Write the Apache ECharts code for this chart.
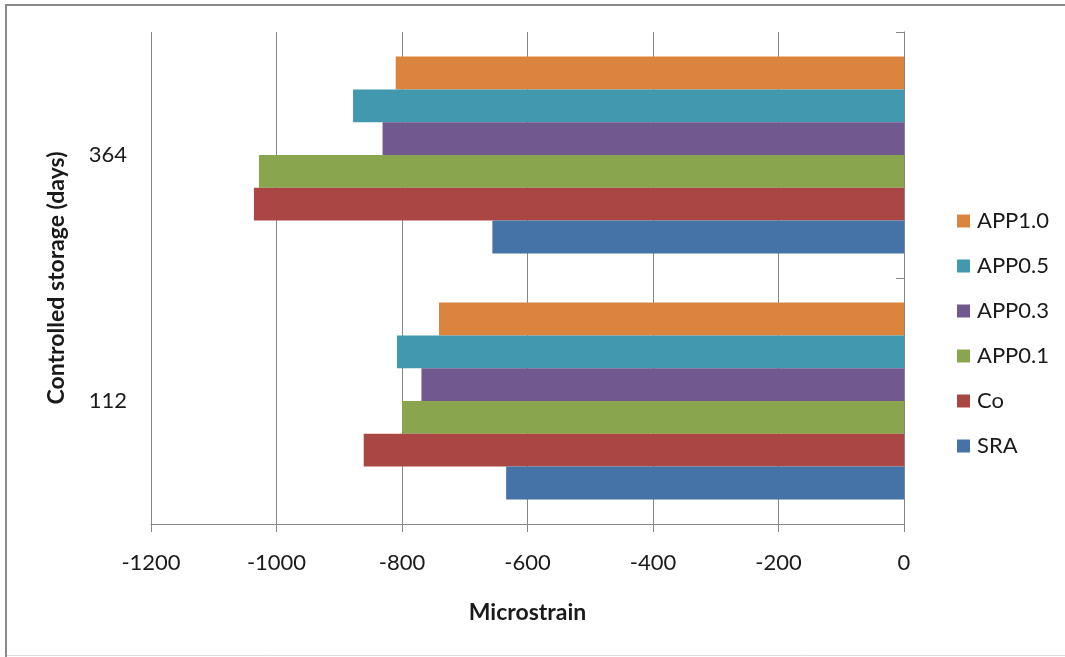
<!DOCTYPE html>
<html>
<head>
<meta charset="utf-8">
<script src="https://cdn.jsdelivr.net/npm/echarts@6/dist/echarts.min.js"></script>
<style>
  html, body { margin: 0; padding: 0; background: #fff; }
  #chart { width: 1065px; height: 657px; }
</style>
</head>
<body>
<div id="chart"></div>
<script>
// Storage ages (days), bottom to top
const categories = ['112', '364'];

// Shrinkage in microstrain per mix, [112 days, 364 days]
const SRA    = [-634, -656];
const Co     = [-861, -1036];
const APP0_1 = [-800, -1028];
const APP0_3 = [-769, -831];
const APP0_5 = [-808, -878];
const APP1_0 = [-741, -810];

// Listed top to bottom within each group (ECharts stacks the first series at the top of a horizontal band)
const seriesNames  = ['APP1.0', 'APP0.5', 'APP0.3', 'APP0.1', 'Co', 'SRA'];
const seriesValues = [APP1_0, APP0_5, APP0_3, APP0_1, Co, SRA];
const seriesColors = ['#DB843D', '#4198AF', '#71588F', '#89A54E', '#AA4643', '#4572A7'];

// Value axis range and step
const xMin = -1200, xMax = 0, xStep = 200;

const FONT = 'Lato, "Open Sans", sans-serif';
const TEXT = '#1a1a1a';
const LINE = '#868686';

const chart = echarts.init(document.getElementById('chart'));

chart.setOption({
  animation: false,
  backgroundColor: '#fff',
  textStyle: { fontFamily: FONT, color: TEXT },
  grid: { left: 151, right: 161, top: 32, bottom: 133, outerBoundsMode: 'none', containLabel: false },
  legend: {
    orient: 'vertical',
    left: 952,
    top: 205,
    itemWidth: 13,
    itemHeight: 13,
    itemGap: 23,
    icon: 'rect',
    data: seriesNames,
    textStyle: { fontFamily: FONT, fontSize: 22, color: TEXT, padding: [0, 0, 0, 2] }
  },
  xAxis: {
    type: 'value',
    min: xMin,
    max: xMax,
    interval: xStep,
    name: 'Microstrain',
    nameLocation: 'middle',
    nameGap: 77,
    nameTextStyle: { fontFamily: FONT, fontSize: 23, fontWeight: 'bold', color: TEXT },
    axisLine: { show: true, lineStyle: { color: LINE, width: 1 } },
    axisTick: { show: true, length: 8, lineStyle: { color: LINE } },
    axisLabel: { fontFamily: FONT, fontSize: 22, color: TEXT, margin: 28, formatter: (v) => String(v) },
    splitLine: { show: true, lineStyle: { color: LINE, width: 1 } }
  },
  yAxis: [
    {
      type: 'category',
      data: categories,
      position: 'left',
      name: 'Controlled storage (days)',
      nameLocation: 'middle',
      nameGap: 83,
      nameRotate: 90,
      nameTextStyle: { fontFamily: FONT, fontSize: 23, fontWeight: 'bold', color: TEXT },
      axisLine: { show: false },
      axisTick: { show: false },
      axisLabel: { fontFamily: FONT, fontSize: 22, color: TEXT, margin: 24 },
      splitLine: { show: false }
    },
    {
      type: 'category',
      data: categories,
      position: 'right',
      axisLine: { show: true, lineStyle: { color: LINE, width: 1 } },
      axisTick: { show: true, inside: true, length: 8, lineStyle: { color: LINE } },
      axisLabel: { show: false },
      splitLine: { show: false }
    }
  ],
  series: seriesNames.map((name, i) => ({
    name: name,
    type: 'bar',
    yAxisIndex: 0,
    data: seriesValues[i],
    barGap: '0%',
    barCategoryGap: '20%',
    itemStyle: { color: seriesColors[i] }
  })),
  graphic: [
    { type: 'line', silent: true, shape: { x1: 5, y1: 5, x2: 1065, y2: 5 }, style: { stroke: '#8a8a8a', lineWidth: 2 } },
    { type: 'line', silent: true, shape: { x1: 6, y1: 4, x2: 6, y2: 657 }, style: { stroke: '#8a8a8a', lineWidth: 2 } },
    { type: 'line', silent: true, shape: { x1: 7, y1: 655.5, x2: 1065, y2: 655.5 }, style: { stroke: '#dcdcdc', lineWidth: 1 } }
  ]
});
</script>
</body>
</html>
